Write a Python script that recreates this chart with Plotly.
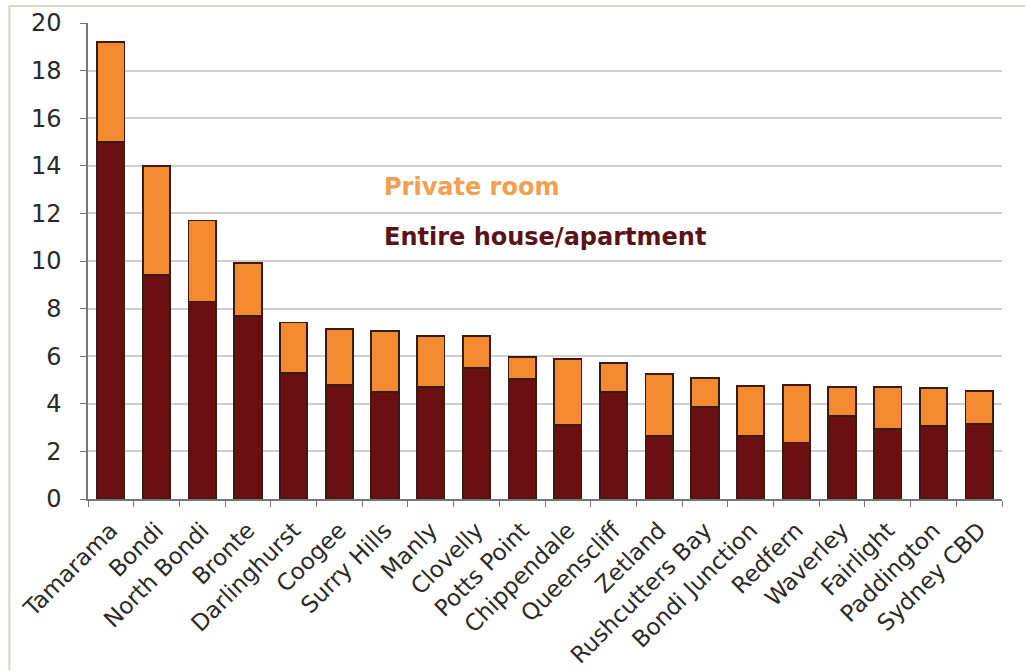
import plotly.graph_objects as go

suburbs = ["Tamarama", "Bondi", "North Bondi", "Bronte", "Darlinghurst", "Coogee",
           "Surry Hills", "Manly", "Clovelly", "Potts Point", "Chippendale", "Queenscliff",
           "Zetland", "Rushcutters Bay", "Bondi Junction", "Redfern", "Waverley",
           "Fairlight", "Paddington", "Sydney CBD"]
entire = [15.0, 9.4, 8.3, 7.7, 5.3, 4.8, 4.5, 4.7, 5.5, 5.05, 3.1, 4.5,
          2.66, 3.85, 2.66, 2.37, 3.5, 2.95, 3.08, 3.15]
total = [19.2, 14.0, 11.7, 9.93, 7.42, 7.15, 7.06, 6.86, 6.85, 5.98, 5.87, 5.71,
         5.25, 5.1, 4.75, 4.8, 4.72, 4.72, 4.65, 4.55]
private = [round(t - e, 2) for t, e in zip(total, entire)]
y_ticks = [0, 2, 4, 6, 8, 10, 12, 14, 16, 18, 20]

MAROON = "#6a1013"
ORANGE = "#f38a30"
EDGE = "#3b1a10"
FONT = "DejaVu Sans, Arial, sans-serif"

fig = go.Figure()
fig.add_trace(go.Bar(x=suburbs, y=entire, name="Entire house/apartment",
                     marker=dict(color=MAROON, line=dict(color=EDGE, width=1.8))))
fig.add_trace(go.Bar(x=suburbs, y=private, name="Private room",
                     marker=dict(color=ORANGE, line=dict(color=EDGE, width=1.8))))

fig.update_layout(
    barmode="stack", bargap=0.4,
    width=1025, height=671,
    margin=dict(l=88, r=23, t=23, b=172),
    paper_bgcolor="white", plot_bgcolor="white",
    showlegend=False,
    font=dict(family=FONT, color="#222"),
    xaxis=dict(tickangle=-45, tickfont=dict(family=FONT, size=23, color="#2a2a2a"),
               automargin=False,
               showline=True, linecolor="#777", linewidth=1.5,
               ticks="outside", tickson="boundaries", ticklen=6, tickcolor="#777",
               ticklabelstandoff=7, showgrid=False),
    yaxis=dict(range=[0, 20], tickvals=y_ticks, tickfont=dict(family=FONT, size=24, color="#2a2a2a"),
               automargin=False,
               showline=True, linecolor="#777", linewidth=1.5,
               ticks="outside", ticklen=6, tickcolor="#777", ticklabelstandoff=14,
               showgrid=True, gridcolor="#cfcfcf", gridwidth=2, zeroline=False),
    annotations=[
        dict(text="<b>Private room</b>", xref="paper", yref="y", x=0.322, y=13.1,
             xanchor="left", yanchor="middle", showarrow=False,
             font=dict(family=FONT, size=24, color="#f2a050")),
        dict(text="<b>Entire house/apartment</b>", xref="paper", yref="y", x=0.322, y=11.0,
             xanchor="left", yanchor="middle", showarrow=False,
             font=dict(family=FONT, size=24, color="#5a1418")),
    ],
    shapes=[
        dict(type="line", xref="paper", yref="paper", x0=-0.086, x1=1.03, y0=1.0357, y1=1.0357,
             line=dict(color="#d9d5c8", width=2)),
        dict(type="line", xref="paper", yref="paper", x0=-0.086, x1=-0.086, y0=-0.36, y1=1.0357,
             line=dict(color="#d9d5c8", width=2)),
    ],
)

fig.write_html("out.html", config={"displayModeBar": False},
               post_script="document.body.style.margin='0';")
